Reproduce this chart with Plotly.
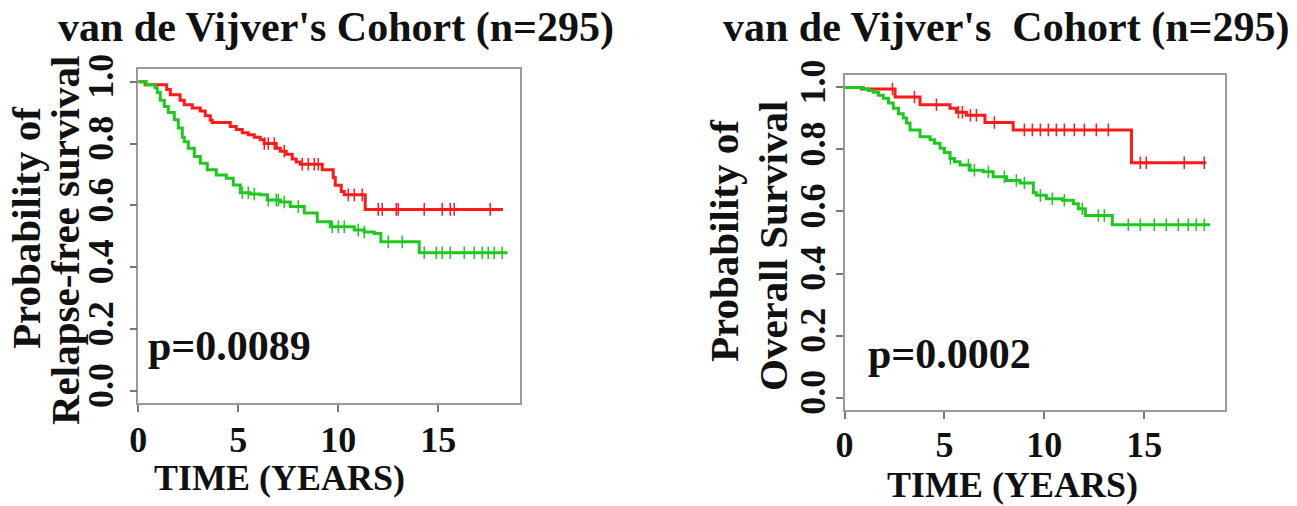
import numpy as np
import plotly.graph_objects as go

W, H = 1297, 506
SERIF = "Liberation Serif"
RED = "#ff1a1a"
GREEN = "#1ec81e"

# ---- Relapse-free survival (left panel) ----
rfs_red_t = [0, 0.34, 1.42, 1.6, 2.09, 2.3, 2.7, 3.1, 3.35, 3.6, 3.7, 4.6, 4.9, 5.2, 5.5,
             5.8, 6.1, 6.3, 6.9, 7.1, 7.4, 7.7, 7.9, 8.1, 9.2, 9.75, 9.85, 10.15, 10.3,
             11.35, 18.24]
rfs_red_s = [1.0, 0.99, 0.975, 0.958, 0.94, 0.925, 0.915, 0.905, 0.89, 0.875, 0.868, 0.855,
             0.845, 0.835, 0.828, 0.82, 0.812, 0.80, 0.785, 0.775, 0.765, 0.75, 0.74, 0.733,
             0.715, 0.69, 0.665, 0.645, 0.634, 0.587, 0.587]
rfs_green_t = [0, 0.4, 0.84, 0.95, 1.1, 1.3, 1.5, 1.8, 2.0, 2.2, 2.3, 2.5, 2.8, 3.1, 3.45,
               3.9, 4.4, 4.75, 5.1, 5.6, 6.1, 6.45, 7.1, 7.6, 8.3, 8.95, 9.6, 10.8, 11.3,
               11.8, 12.13, 14.05, 18.47]
rfs_green_s = [1.0, 0.99, 0.98, 0.965, 0.94, 0.92, 0.9, 0.877, 0.85, 0.82, 0.806, 0.785,
               0.758, 0.736, 0.715, 0.698, 0.688, 0.666, 0.641, 0.637, 0.634, 0.617, 0.611,
               0.596, 0.575, 0.547, 0.531, 0.52, 0.514, 0.509, 0.482, 0.447, 0.447]
rfs_red_cens = [6.3, 6.5, 6.8, 7.3, 8.2, 8.5, 8.8, 9.0, 10.5, 10.8, 11.2, 12.0, 12.2, 12.9,
                13.0, 14.3, 15.2, 15.6, 15.8, 17.6]
rfs_green_cens = [5.2, 5.5, 5.8, 6.5, 6.9, 7.0, 7.3, 8.0, 9.7, 10.0, 10.3, 11.0, 11.3, 12.5,
                  13.2, 14.3, 14.9, 15.2, 15.6, 16.3, 16.8, 17.2, 17.5, 17.8, 18.2]

# ---- Overall survival (right panel) ----
os_red_t = [0, 0.86, 2.53, 3.78, 5.28, 5.6, 6.1, 7.03, 8.44, 14.36, 18.1]
os_red_s = [1.0, 0.995, 0.969, 0.944, 0.933, 0.92, 0.91, 0.887, 0.863, 0.757, 0.757]
os_green_t = [0, 0.94, 1.2, 1.44, 1.7, 1.94, 2.2, 2.44, 2.7, 2.94, 3.1, 3.28, 3.78, 4.28,
              4.5, 4.78, 5.0, 5.28, 5.5, 5.78, 6.28, 6.94, 7.44, 8.11, 8.78, 9.45, 9.6,
              10.1, 10.9, 11.45, 11.7, 12.05, 13.4, 18.3]
os_green_s = [1.0, 0.995, 0.99, 0.984, 0.975, 0.965, 0.95, 0.933, 0.915, 0.901, 0.885, 0.863,
              0.841, 0.831, 0.82, 0.804, 0.79, 0.771, 0.76, 0.75, 0.733, 0.728, 0.712, 0.70,
              0.692, 0.66, 0.652, 0.641, 0.636, 0.625, 0.609, 0.587, 0.557, 0.557]
os_red_cens = [2.4, 3.5, 4.6, 5.7, 5.9, 6.3, 6.6, 7.5, 9.0, 9.4, 9.8, 10.2, 10.6, 11.0, 11.5,
               12.0, 12.6, 13.2, 14.8, 15.1, 17.0, 18.0]
os_green_cens = [5.3, 6.2, 6.5, 7.2, 8.0, 8.6, 9.0, 9.8, 10.4, 11.0, 11.9, 12.7, 13.0, 14.2,
                 14.8, 15.5, 16.1, 16.7, 17.2, 17.6, 18.0]

titles = ["van de Vijver's Cohort (n=295)", "van de Vijver's \u00a0Cohort (n=295)"]
ylabels = [("Probability of", "Relapse-free survival"), ("Probability of", "Overall Survival")]
pvalues = ["p=0.0089", "p=0.0002"]
x_title = "TIME (YEARS)"
x_ticks = [0, 5, 10, 15]
y_ticks = [0.0, 0.2, 0.4, 0.6, 0.8, 1.0]


def step_at(t, s, x):
    idx = np.searchsorted(np.asarray(t), np.asarray(x), side="right") - 1
    return np.asarray(s)[idx]


def px(x):
    return x / W


def py(y):
    return 1 - y / H


fig = go.Figure()

panels = [
    dict(xa="x", ya="y", curves=[(rfs_red_t, rfs_red_s, rfs_red_cens, RED),
                                  (rfs_green_t, rfs_green_s, rfs_green_cens, GREEN)]),
    dict(xa="x2", ya="y2", curves=[(os_red_t, os_red_s, os_red_cens, RED),
                                    (os_green_t, os_green_s, os_green_cens, GREEN)]),
]

for p in panels:
    for t, s, cens, col in p["curves"]:
        fig.add_trace(go.Scatter(x=t, y=s, mode="lines", line=dict(color=col, width=3, shape="hv"),
                                 xaxis=p["xa"], yaxis=p["ya"], showlegend=False, hoverinfo="skip"))
        # censoring ticks
        fig.add_trace(go.Scatter(x=cens, y=step_at(t, s, cens), mode="markers",
                                 marker=dict(symbol="line-ns-open", size=9, color=col,
                                             line=dict(color=col, width=1.5)),
                                 xaxis=p["xa"], yaxis=p["ya"], showlegend=False, hoverinfo="skip"))

axis_common = dict(showline=True, mirror=True, linecolor="#9a9a9a", linewidth=1.5,
                   ticks="outside", ticklen=7, tickwidth=1.5, tickcolor="#777",
                   showgrid=False, zeroline=False, automargin=False,
                   tickfont=dict(family=SERIF, size=36, color="#111", weight="bold"))

fig.update_layout(
    width=W, height=H, margin=dict(l=0, r=0, t=0, b=0, autoexpand=False),
    paper_bgcolor="white", plot_bgcolor="white", showlegend=False,
    xaxis=dict(domain=[px(138.3), px(519.6)], range=[0, 19.07], tickvals=x_ticks,
               anchor="y", ticklabelstandoff=-3, **axis_common),
    yaxis=dict(domain=[py(403.3), py(69.3)], range=[-0.04, 1.04], tickvals=y_ticks,
               tickformat=".1f", tickangle=-90, anchor="x", ticklabelstandoff=2, **axis_common),
    xaxis2=dict(domain=[px(844.5), px(1225)], range=[0, 19.04], tickvals=x_ticks,
                anchor="y2", ticklabelstandoff=-5, **axis_common),
    yaxis2=dict(domain=[py(410), py(75)], range=[-0.04, 1.04], tickvals=y_ticks,
                tickformat=".1f", tickangle=-90, anchor="x2", ticklabelstandoff=-4, **axis_common),
)

big = dict(family=SERIF, color="#111", weight="bold")
ann = []
# panel titles
ann.append(dict(text=titles[0], x=px(336), y=py(27), font=dict(size=42, **big)))
ann.append(dict(text=titles[1], x=px(1006), y=py(27), font=dict(size=42, **big)))
# y-axis titles, two lines each
ann.append(dict(text=ylabels[0][0], x=px(26), y=py(228), textangle=-90, font=dict(size=41, **big)))
ann.append(dict(text=ylabels[0][1], x=px(65), y=py(241), textangle=-90, font=dict(size=41, **big)))
ann.append(dict(text=ylabels[1][0], x=px(724), y=py(240), textangle=-90, font=dict(size=41, **big)))
ann.append(dict(text=ylabels[1][1], x=px(773), y=py(246), textangle=-90, font=dict(size=41, **big)))
# x-axis titles
ann.append(dict(text=x_title, x=px(279), y=py(478), font=dict(size=36, **big)))
ann.append(dict(text=x_title, x=px(1012), y=py(485), font=dict(size=36, **big)))
# p-values
ann.append(dict(text=pvalues[0], x=px(146), y=py(346), xanchor="left", font=dict(size=42, **big)))
ann.append(dict(text=pvalues[1], x=px(866), y=py(354), xanchor="left", font=dict(size=42, **big)))

for a in ann:
    a.setdefault("xanchor", "center")
    a.setdefault("yanchor", "middle")
    a.update(xref="paper", yref="paper", showarrow=False)
fig.update_layout(annotations=ann)

fig.write_html("out.html")
